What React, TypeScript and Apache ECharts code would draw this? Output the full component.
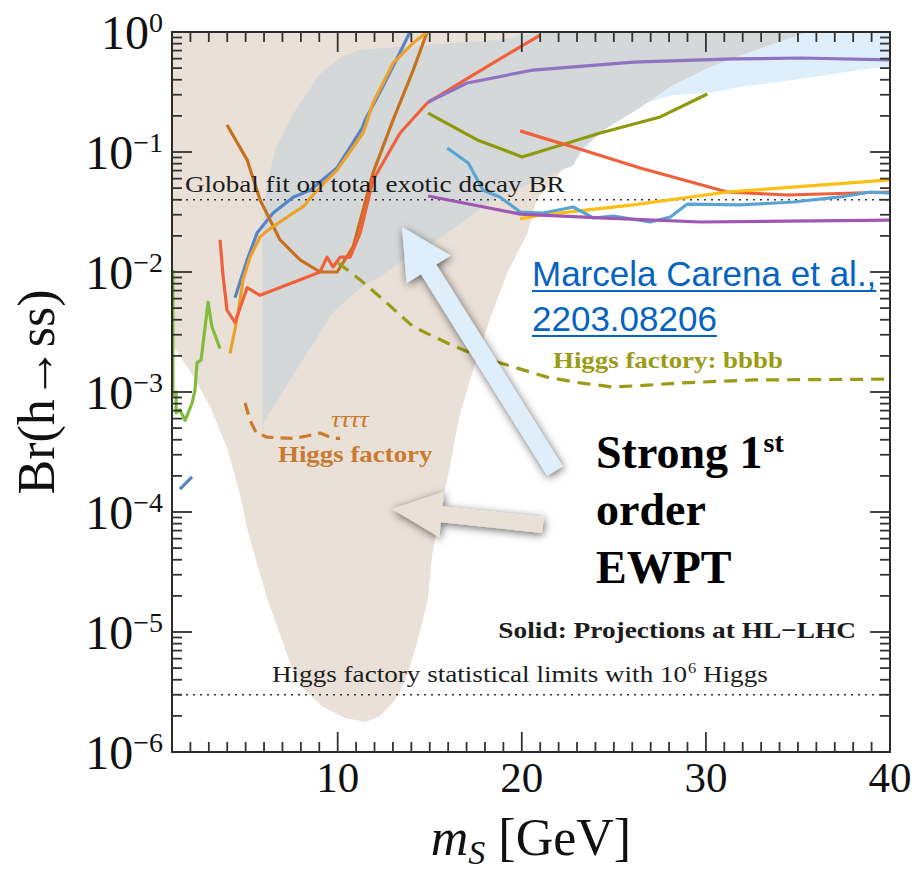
import React, { useEffect, useRef } from "react";
import * as echarts from "echarts";

const SERIF = '"Liberation Serif", "Times New Roman", Times, serif';
const SANS = '"Liberation Sans", Arial, Helvetica, sans-serif';

// ---- axis ticks ----
const xMajorTicks = [10, 20, 30, 40];
const xMinorTicks = [
  2, 3, 4, 5, 6, 7, 8, 9, 11, 12, 13, 14, 15, 16, 17, 18, 19, 21, 22, 23, 24, 25, 26, 27, 28, 29,
  31, 32, 33, 34, 35, 36, 37, 38, 39,
];
const yDecades = [1e-6, 1e-5, 1e-4, 1e-3, 1e-2, 1e-1, 1];
const yMinorSteps = [2, 3, 4, 5, 6, 7, 8, 9];
const yMinorTicks = yDecades
  .slice(0, -1)
  .flatMap((d) => yMinorSteps.map((k) => +(k * d).toPrecision(3)));

// ---- horizontal reference limits ----
const globalFitBR = 0.04;
const factoryStatLimit = 3e-6;

// ---- shaded regions [m_S, Br] ----
const ewptRegion: [number, number][] = [
  [1, 1], [26.4, 1], [24.3, 0.3], [23.0, 0.098], [20.8, 0.04], [20.3, 0.021], [19.2, 0.0098],
  [18.3, 0.0042], [17.4, 0.0016], [16.6, 6.2e-4], [16.1, 2.4e-4], [15.4, 7.5e-5], [15.1, 4.0e-5],
  [14.9, 1.85e-5], [14.2, 7.1e-6], [13.7, 4.0e-6], [13.1, 2.7e-6], [12.3, 2.0e-6], [11.5, 1.78e-6],
  [10.4, 1.92e-6], [9.15, 2.4e-6], [8.2, 3.3e-6], [7.5, 5.1e-6], [6.2, 1.85e-5], [5.4, 4.8e-5],
  [5.1, 7.1e-5], [4.7, 1.4e-4], [4.0, 3.4e-4], [3.1, 7.4e-4], [2.1, 1.4e-3], [1, 2.5e-3],
];
const wideBandRegion: [number, number][] = [
  [22.6, 0.071], [23.0, 0.089], [24.6, 0.168], [26.4, 0.246], [28.2, 0.298], [30.1, 0.31],
  [31.9, 0.348], [35.5, 0.414], [39.1, 0.5], [40, 0.51], [40, 1], [34, 1], [26.4, 0.585], [22.1, 0.185],
];
const greyRegion: [number, number][] = [
  [5.9, 5.3e-4], [5.9, 0.02], [6.1, 0.048], [6.6, 0.104], [7.6, 0.21], [9.0, 0.44], [10.1, 0.61],
  [11.2, 0.71], [14.9, 0.78], [18.8, 0.86], [21.0, 1], [35.5, 1], [31.9, 0.64], [30.1, 0.5],
  [28.2, 0.36], [26.4, 0.233], [24.6, 0.158], [23.3, 0.108], [22.8, 0.078], [21.0, 0.0585],
  [18.8, 0.0438], [16.8, 0.0261], [15.0, 0.0168], [13.4, 0.0121], [12.3, 0.0091], [11.6, 0.0081],
  [10.5, 0.0059], [9.75, 0.0046], [8.0, 0.00175],
];

// ---- HL-LHC projections (solid) ----
const hlSteel: [number, number][] = [
  [4.42, 0.0061], [5.08, 0.0126], [5.62, 0.0211], [6.49, 0.031], [7.58, 0.042], [8.5, 0.048],
  [9.97, 0.074], [11.33, 0.158], [11.49, 0.185], [12.3, 0.316], [13.12, 0.56], [13.93, 1.0],
];
const hlOrange: [number, number][] = [
  [4.15, 0.0021], [4.42, 0.0033], [4.59, 0.0046], [4.86, 0.0086], [5.24, 0.0133], [5.78, 0.0196],
  [6.16, 0.022], [7.58, 0.031], [8.12, 0.035], [8.88, 0.048], [9.97, 0.071], [11.38, 0.144],
  [11.92, 0.256], [13.01, 0.55], [14.1, 0.81], [14.86, 1.0],
];
const hlBrown: [number, number][] = [
  [3.99, 0.168], [5.08, 0.086], [5.78, 0.04], [6.87, 0.0185], [7.96, 0.0126], [9.04, 0.01],
  [9.97, 0.01], [10.84, 0.0162], [11.92, 0.067], [13.01, 0.185], [14.1, 0.48], [14.86, 1.0],
];
const hlRed: [number, number][] = [
  [3.61, 0.0185], [3.77, 0.0094], [3.99, 0.0048], [4.42, 0.0038], [5.08, 0.0074], [5.78, 0.0064],
  [7.96, 0.0086], [9.04, 0.01], [9.42, 0.0133], [9.75, 0.011], [10.13, 0.0133], [10.67, 0.0133],
  [11.22, 0.0211], [11.92, 0.0585], [13.39, 0.144], [14.86, 0.256], [16.65, 0.376], [18.45, 0.552],
  [21.0, 0.944],
];
const hlLavender: [number, number][] = [
  [14.91, 0.261], [17.03, 0.376], [20.62, 0.482], [26.05, 0.562], [31.49, 0.596], [35.13, 0.607],
  [40, 0.585],
];
const hlOlive: [number, number][] = [
  [14.91, 0.211], [17.58, 0.126], [20.02, 0.091], [24.26, 0.144], [27.52, 0.196], [30.08, 0.304],
];
const hlRedHeavy: [number, number][] = [
  [19.91, 0.15], [21.0, 0.133], [22.79, 0.11], [26.43, 0.0736], [31.16, 0.0464], [34.42, 0.0438],
  [40, 0.0464],
];
const hlGold: [number, number][] = [
  [19.91, 0.0277], [21.0, 0.0298], [26.05, 0.0362], [31.16, 0.0464], [40, 0.0585],
];
const hlSky: [number, number][] = [
  [15.95, 0.108], [17.09, 0.081], [17.9, 0.048], [18.83, 0.042], [19.91, 0.0316], [21.16, 0.031],
  [22.79, 0.0348], [23.88, 0.0282], [24.97, 0.0293], [26.98, 0.0261], [28.07, 0.0287],
  [28.99, 0.0368], [31.87, 0.0362], [34.75, 0.0383], [37.3, 0.0422], [38.93, 0.0464], [40, 0.0455],
];
const hlViolet: [number, number][] = [
  [14.91, 0.043], [19.91, 0.0304], [24.26, 0.0282], [29.7, 0.0261], [40, 0.0271],
];
const hlGreen: [number, number][] = [
  [1.05, 0.0104], [1.05, 0.00094], [1.22, 0.001], [1.22, 0.00067], [1.43, 0.00071], [1.71, 0.00058],
  [2.09, 0.00081], [2.25, 0.00104], [2.36, 0.00175], [2.58, 0.00185], [2.96, 0.0056], [3.17, 0.0035],
  [3.61, 0.0023],
];
const hlSteelLow: [number, number][] = [
  [1.43, 0.000155], [2.09, 0.000196],
];

// ---- Higgs factory projections (dashed) ----
const factoryBbbb: [number, number][] = [
  [10.02, 0.0119], [11.22, 0.0086], [12.3, 0.0062], [14.1, 0.0035], [15.95, 0.00256],
  [17.74, 0.00196], [19.53, 0.00162], [21.38, 0.00133], [23.17, 0.00119], [24.97, 0.0011],
  [26.82, 0.00114], [28.61, 0.00119], [32.58, 0.00126], [40, 0.00128],
];
const factoryTau: [number, number][] = [
  [4.97, 0.00081], [5.24, 0.00058], [5.57, 0.00046], [6.16, 0.00042], [7.58, 0.00041],
  [8.34, 0.00043], [9.04, 0.000455], [9.75, 0.00041], [10.13, 0.00041],
];

// ---- styling ----
const GRID = { left: 172, top: 32, width: 718, height: 720 };
const X_RANGE = [1, 40];
const Y_RANGE = [1e-6, 1];
const frameLine = { show: true, onZero: false, lineStyle: { color: "#2b2b2b", width: 2 } };
const TICK_COLOR = "#333333";
const TEXT_DARK = "#1c1c1c";
const OLIVE = "#9a9b16";
const BROWN_TXT = "#c97a2f";

const measureCtx = document.createElement("canvas").getContext("2d") as CanvasRenderingContext2D;
function textWidth(text: string, font: string) {
  measureCtx.font = font;
  return measureCtx.measureText(text).width;
}
// y of the central line for a text whose baseline sits at `baseline`
const mid = (baseline: number, size: number) => baseline - 0.34 * size;

// Inward ticks on all four sides of the frame, placed through the axes' scales.
function frameTicksSeries() {
  return {
    type: "custom",
    name: "frame ticks",
    coordinateSystem: "cartesian2d",
    silent: true,
    clip: false,
    z: 10,
    data: [[X_RANGE[0], Y_RANGE[0]]],
    renderItem: (_p: any, api: any) => {
      const children: any[] = [];
      const seg = (x1: number, y1: number, x2: number, y2: number) =>
        children.push({
          type: "line",
          shape: { x1, y1, x2, y2 },
          style: { stroke: TICK_COLOR, lineWidth: 1.8 },
        });
      const xTicks = [
        ...xMajorTicks.filter((v) => v < X_RANGE[1]).map((v) => [v, 20]),
        ...xMinorTicks.map((v) => [v, 10]),
      ];
      for (const [v, len] of xTicks) {
        const [px, pyB] = api.coord([v, Y_RANGE[0]]);
        const [, pyT] = api.coord([v, Y_RANGE[1]]);
        seg(px, pyB, px, pyB - len);
        seg(px, pyT, px, pyT + len);
      }
      const yTicks = [
        ...yDecades.filter((v) => v > Y_RANGE[0] && v < Y_RANGE[1]).map((v) => [v, 20]),
        ...yMinorTicks.map((v) => [v, 10]),
      ];
      for (const [v, len] of yTicks) {
        const [pxL, py] = api.coord([X_RANGE[0], v]);
        const [pxR] = api.coord([X_RANGE[1], v]);
        seg(pxL, py, pxL + len, py);
        seg(pxR, py, pxR - len, py);
      }
      return { type: "group", children };
    },
  };
}

function regionSeries(name: string, pts: [number, number][], fill: string) {
  return {
    type: "custom",
    name,
    coordinateSystem: "cartesian2d",
    silent: true,
    clip: true,
    z: 1,
    data: [pts[0]],
    renderItem: (_params: any, api: any) => ({
      type: "polygon",
      shape: { points: pts.map((p) => api.coord(p)) },
      style: { fill },
    }),
  };
}

function lineSeries(name: string, data: [number, number][], color: string, dashed?: number[]) {
  return {
    type: "line",
    name,
    data,
    showSymbol: false,
    symbol: "none",
    silent: true,
    z: 3,
    lineStyle: { color, width: 3.2, type: dashed ?? "solid", cap: "butt", join: "round" },
  };
}

function refLine(name: string, value: number) {
  return {
    type: "line",
    name,
    data: [[X_RANGE[0], value], [X_RANGE[1], value]],
    showSymbol: false,
    symbol: "none",
    silent: true,
    z: 2,
    lineStyle: { color: "#333", width: 1.5, type: [2, 5] },
  };
}

function arrowPolygon(tail: number[], tip: number[], headLen: number, headHalf: number, shaftHalf: number) {
  const dx = tip[0] - tail[0];
  const dy = tip[1] - tail[1];
  const L = Math.hypot(dx, dy);
  const ux = dx / L, uy = dy / L;
  const nx = -uy, ny = ux;
  const bx = tip[0] - ux * headLen, by = tip[1] - uy * headLen;
  return [
    [tail[0] + nx * shaftHalf, tail[1] + ny * shaftHalf],
    [bx + nx * shaftHalf, by + ny * shaftHalf],
    [bx + nx * headHalf, by + ny * headHalf],
    [tip[0], tip[1]],
    [bx - nx * headHalf, by - ny * headHalf],
    [bx - nx * shaftHalf, by - ny * shaftHalf],
    [tail[0] - nx * shaftHalf, tail[1] - ny * shaftHalf],
  ];
}

function txt(text: string, x: number, baseline: number, size: number, opts: any = {}) {
  const { weight = "normal", style = "normal", family = SERIF, fill = TEXT_DARK, align = "left", scaleX = 1 } = opts;
  return {
    type: "text",
    x,
    y: mid(baseline, size),
    scaleX,
    z: 20,
    silent: true,
    style: {
      text,
      x: 0,
      y: 0,
      fill,
      fontSize: size,
      fontFamily: family,
      fontWeight: weight,
      fontStyle: style,
      textAlign: align,
      textVerticalAlign: "middle",
      verticalAlign: "middle",
    },
  };
}

function buildGraphics() {
  const g: any[] = [];

  // arrows with soft drop shadow
  const shadow = { shadowBlur: 9, shadowColor: "rgba(0,0,0,0.6)", shadowOffsetX: 1, shadowOffsetY: 2 };
  g.push({
    type: "polygon",
    z: 15,
    silent: true,
    shape: { points: arrowPolygon([555, 471], [402, 227], 50, 26, 9) },
    style: { fill: "#dfeefb", ...shadow },
  });
  g.push({
    type: "polygon",
    z: 15,
    silent: true,
    shape: { points: arrowPolygon([543, 525], [392, 509], 50, 23, 8) },
    style: { fill: "#e9e0d6", ...shadow },
  });

  // plot annotations
  g.push(txt("Global fit on total exotic decay BR", 185, 192, 23, { scaleX: 1.18 }));

  const statMain = "Higgs factory statistical limits with 10";
  const wStat = textWidth(statMain, `23px ${SERIF}`);
  const wSix = textWidth("6", `14px ${SERIF}`);
  g.push({
    type: "group",
    x: 272,
    y: 682,
    scaleX: 1.18,
    children: [
      txt(statMain, 0, 0, 23),
      txt("6", wStat + 0.5, -9, 14),
      txt(" Higgs", wStat + wSix + 0.5, 0, 23),
    ],
  });

  g.push(txt("Solid: Projections at HL\u2212LHC", 856, 638, 24, { weight: "bold", align: "right", scaleX: 1.14 }));
  g.push(txt("Higgs factory: bbbb", 553, 368, 24, { weight: "bold", fill: OLIVE, scaleX: 1.12 }));
  g.push(txt("\u03c4\u03c4\u03c4\u03c4", 331, 427, 24, { style: "italic", fill: BROWN_TXT, scaleX: 1.1 }));
  g.push(txt("Higgs factory", 278, 462, 24, { weight: "bold", fill: BROWN_TXT, scaleX: 1.12 }));

  // reference link
  const LINK = "#0563c1";
  const l1 = "Marcela Carena et al.,";
  const l2 = "2203.08206";
  const w1 = textWidth(l1, `35px ${SANS}`);
  const w2 = textWidth(l2, `35px ${SANS}`);
  g.push(txt(l1, 532, 285, 35, { family: SANS, fill: LINK }));
  g.push(txt(l2, 532, 330, 35, { family: SANS, fill: LINK }));
  g.push({ type: "line", z: 20, silent: true, shape: { x1: 532, y1: 291, x2: 532 + w1, y2: 291 }, style: { stroke: LINK, lineWidth: 2 } });
  g.push({ type: "line", z: 20, silent: true, shape: { x1: 532, y1: 336, x2: 532 + w2, y2: 336 }, style: { stroke: LINK, lineWidth: 2 } });

  // EWPT label
  const wStrong = textWidth("Strong 1", `bold 46px ${SERIF}`);
  g.push(txt("Strong 1", 596, 468, 46, { weight: "bold", fill: "#000" }));
  g.push(txt("st", 596 + wStrong + 1, 452, 28, { weight: "bold", fill: "#000" }));
  g.push(txt("order", 596, 525, 46, { weight: "bold", fill: "#000" }));
  g.push(txt("EWPT", 596, 583, 46, { weight: "bold", fill: "#000" }));

  // axis titles
  g.push({
    type: "text",
    x: 36,
    y: 392,
    rotation: Math.PI / 2,
    z: 20,
    silent: true,
    style: {
      text: "Br(h\u2192ss)",
      x: 0,
      y: 0,
      fill: "#111",
      fontSize: 52,
      fontFamily: SERIF,
      textAlign: "center",
      textVerticalAlign: "middle",
      verticalAlign: "middle",
    },
  });
  const wm = textWidth("m", `italic 52px ${SERIF}`);
  const ws = textWidth("S", `italic 34px ${SERIF}`);
  const wg = textWidth(" [GeV]", `52px ${SERIF}`);
  const x0 = 531 - (wm + ws + wg) / 2;
  g.push(txt("m", x0, 855, 52, { style: "italic", fill: "#111" }));
  g.push(txt("S", x0 + wm, 864, 34, { style: "italic", fill: "#111" }));
  g.push(txt(" [GeV]", x0 + wm + ws, 855, 52, { fill: "#111" }));

  return g;
}

function buildOption() {
  return {
    animation: false,
    backgroundColor: "#ffffff",
    grid: { ...GRID, containLabel: false, outerBoundsMode: "none" },
    xAxis: [
      {
        type: "value",
        min: X_RANGE[0],
        max: X_RANGE[1],
        position: "bottom",
        z: 8,
        axisLine: frameLine,
        axisTick: { show: false },
        axisLabel: { show: true, customValues: xMajorTicks, fontFamily: SERIF, fontSize: 43, color: "#111", margin: 4 },
        splitLine: { show: false },
      },
      {
        type: "value",
        min: X_RANGE[0],
        max: X_RANGE[1],
        position: "top",
        z: 8,
        axisLine: frameLine,
        axisTick: { show: false },
        axisLabel: { show: false },
        splitLine: { show: false },
      },
    ],
    yAxis: [
      {
        type: "log",
        logBase: 10,
        min: Y_RANGE[0],
        max: Y_RANGE[1],
        position: "left",
        z: 8,
        axisLine: frameLine,
        axisTick: { show: false },
        axisLabel: {
          show: true,
          customValues: yDecades,
          margin: 9,
          formatter: (v: number) => {
            const e = Math.round(Math.log10(v));
            return `{b|10}{s|${e === 0 ? "0" : "\u2212" + -e}}`;
          },
          rich: {
            b: { fontFamily: SERIF, fontSize: 48, color: "#111", lineHeight: 48 },
            s: { fontFamily: SERIF, fontSize: 28, color: "#111", lineHeight: 28, verticalAlign: "top" },
          },
        },
        splitLine: { show: false },
      },
      {
        type: "log",
        logBase: 10,
        min: Y_RANGE[0],
        max: Y_RANGE[1],
        position: "right",
        z: 8,
        axisLine: frameLine,
        axisTick: { show: false },
        axisLabel: { show: false },
        splitLine: { show: false },
      },
    ],
    series: [
      regionSeries("Strong first-order EWPT", ewptRegion, "#e9e0d7"),
      regionSeries("Band", wideBandRegion, "#dfeefb"),
      regionSeries("Grey band", greyRegion, "#d5d8d9"),
      refLine("Global fit", globalFitBR),
      refLine("Higgs factory statistical limit", factoryStatLimit),
      lineSeries("hl-steel", hlSteel, "#5585c6"),
      lineSeries("hl-brown", hlBrown, "#c6711f"),
      lineSeries("hl-orange", hlOrange, "#eba12b"),
      lineSeries("hl-red", hlRed, "#f0603a"),
      lineSeries("hl-lavender", hlLavender, "#8f73c3"),
      lineSeries("hl-olive", hlOlive, "#8d9a0c"),
      lineSeries("hl-red-heavy", hlRedHeavy, "#f0603a"),
      lineSeries("hl-gold", hlGold, "#fdbf12"),
      lineSeries("hl-sky", hlSky, "#5aa4d5"),
      lineSeries("hl-violet", hlViolet, "#a057b2"),
      lineSeries("hl-green", hlGreen, "#82bb3e"),
      lineSeries("hl-steel-low", hlSteelLow, "#5585c6"),
      lineSeries("Higgs factory: bbbb", factoryBbbb, OLIVE, [13, 8]),
      lineSeries("Higgs factory: tautau", factoryTau, "#c97a2c", [12, 7]),
      frameTicksSeries(),
    ],
    graphic: buildGraphics(),
  };
}

export default function App() {
  const ref = useRef<HTMLDivElement>(null);
  useEffect(() => {
    document.body.style.margin = "0";
    const chart = echarts.init(ref.current!, null, { renderer: "svg" });
    chart.setOption(buildOption() as any);
    return () => chart.dispose();
  }, []);
  return <div ref={ref} style={{ width: 919, height: 872 }} />;
}
